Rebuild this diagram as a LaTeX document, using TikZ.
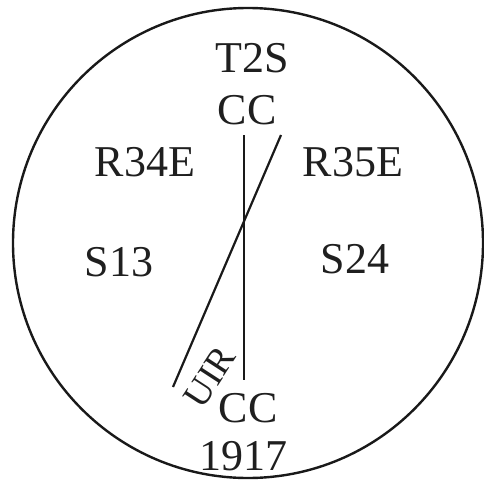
\documentclass[tikz,border=0pt]{standalone}
\usepackage{fontspec}
\setmainfont{Liberation Serif}
\begin{document}
\begin{tikzpicture}[x=1pt,y=-1pt,
  lbl/.style={font=\fontsize{44}{44}\selectfont, inner sep=0pt, text=black!88},
  small/.style={font=\fontsize{37}{37}\selectfont, inner sep=0pt, text=black!88},
  ln/.style={line width=2.2pt, black!90}]
\useasboundingbox (0,0) rectangle (484,487);
\node[draw=black!90, line width=2.4pt, circle, minimum size=470pt, inner sep=0pt] (ring) at (248,243) {};
\node[lbl] (t2s) at (252,58) {T2S};
\node[lbl] (cctop) at (247,110) {CC};
\node[lbl] (r34e) at (145,162) {R34E};
\node[lbl] (r35e) at (353,162) {R35E};
\node[lbl] (s13) at (119,262) {S13};
\node[lbl] (s24) at (355,259) {S24};
\node[lbl] (ccbot) at (248,408) {CC};
\node[lbl] (yr) at (243,456) {1917};
\node[small, rotate=57] (uir) at (210,377) {UIR};
\coordinate (v1) at (244,135);
\coordinate (v2) at (244,380);
\coordinate (s1) at (281,135);
\coordinate (s2) at (173,387);
\draw[ln] (v1) -- (v2);
\draw[ln] (s1) -- (s2);
\end{tikzpicture}
\end{document}
